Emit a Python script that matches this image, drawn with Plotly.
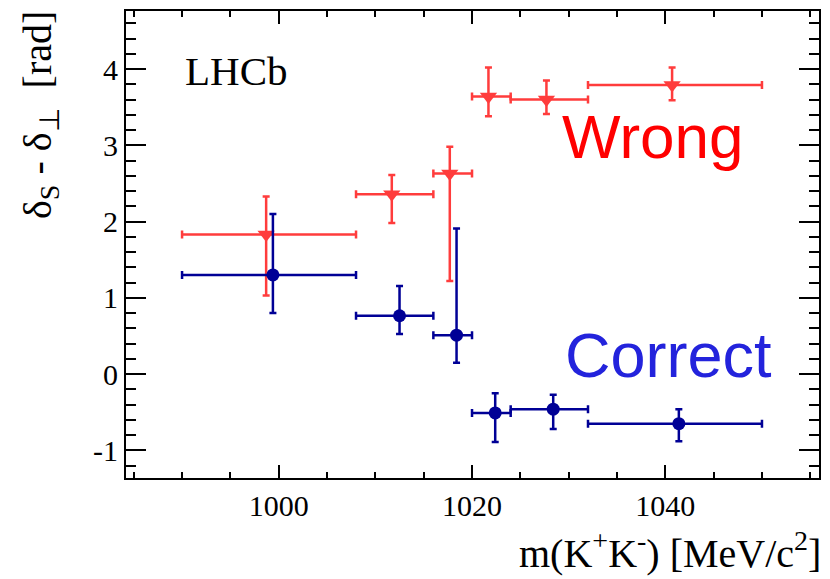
import plotly.graph_objects as go

# m(K+K-) bins [MeV/c^2]
bin_lo = [990, 1008, 1016, 1020, 1024, 1032]
bin_hi = [1008, 1016, 1020, 1024, 1032, 1050]

# "Correct" solution
correct_x = [999.4, 1012.5, 1018.4, 1022.4, 1028.4, 1041.4]
correct_y = [1.30, 0.765, 0.51, -0.51, -0.46, -0.65]
correct_up = [0.80, 0.39, 1.40, 0.26, 0.19, 0.19]
correct_dn = [0.50, 0.24, 0.36, 0.38, 0.26, 0.23]

# "Wrong" solution
wrong_x = [998.7, 1011.7, 1017.7, 1021.7, 1027.7, 1040.7]
wrong_y = [1.83, 2.36, 2.63, 3.64, 3.60, 3.79]
wrong_up = [0.50, 0.25, 0.35, 0.38, 0.25, 0.23]
wrong_dn = [0.80, 0.38, 1.41, 0.26, 0.19, 0.20]

x_ticks = [1000, 1020, 1040]
x_tick_text = ["1000", "1020", "1040"]
y_ticks = [-1, 0, 1, 2, 3, 4]
y_tick_text = ["-1", "0", "1", "2", "3", "4"]

W, H = 830, 579
L, R, T, B = 126, 819, 9, 478.5

SERIF = "Liberation Serif, Times New Roman, serif"
SANS = "Liberation Sans, Arial, sans-serif"
RED = "#ff3c3c"
BLUE = "#000096"


def px_x(p):
    return (p - L) / (R - L)


def px_y(p):
    return (B - p) / (B - T)


def xerr(xs):
    plus = [h - x for h, x in zip(bin_hi, xs)]
    minus = [x - l for l, x in zip(bin_lo, xs)]
    return plus, minus


fig = go.Figure()

wp, wm = xerr(wrong_x)
fig.add_trace(go.Scatter(
    x=wrong_x, y=wrong_y, mode="markers",
    marker=dict(symbol="triangle-down", size=15, color=RED),
    error_x=dict(type="data", symmetric=False, array=wp, arrayminus=wm,
                 color=RED, thickness=2.5, width=4),
    error_y=dict(type="data", symmetric=False, array=wrong_up, arrayminus=wrong_dn,
                 color=RED, thickness=2.5, width=3.5),
    showlegend=False,
))

cp, cm = xerr(correct_x)
fig.add_trace(go.Scatter(
    x=correct_x, y=correct_y, mode="markers",
    marker=dict(symbol="circle", size=13, color=BLUE),
    error_x=dict(type="data", symmetric=False, array=cp, arrayminus=cm,
                 color=BLUE, thickness=2.5, width=4),
    error_y=dict(type="data", symmetric=False, array=correct_up, arrayminus=correct_dn,
                 color=BLUE, thickness=2.5, width=3.5),
    showlegend=False,
))

axis_common = dict(
    showline=True, linecolor="black", linewidth=2, mirror="allticks",
    ticks="inside", tickcolor="black", tickwidth=2,
    showgrid=False, zeroline=False,
    tickfont=dict(family=SERIF, size=30, color="black"),
)

fig.update_xaxes(
    range=[984.2, 1055.9], tickvals=x_ticks, ticktext=x_tick_text, ticklen=13,
    minor=dict(ticks="inside", dtick=5, tick0=0, ticklen=6, tickwidth=2, tickcolor="black"),
    **axis_common,
)
fig.update_yaxes(
    range=[-1.363, 4.762], tickvals=y_ticks, ticktext=y_tick_text, ticklen=20,
    minor=dict(ticks="inside", dtick=0.2, tick0=0, ticklen=10, tickwidth=2, tickcolor="black"),
    **axis_common,
)

annotations = [
    dict(text="LHCb", x=px_x(183), y=px_y(69), xanchor="left", yanchor="middle",
         font=dict(family=SERIF, size=41, color="black")),
    dict(text="Wrong", x=px_x(560), y=px_y(135.5), xanchor="left", yanchor="middle",
         font=dict(family=SANS, size=62, color="#ff0000")),
    dict(text="Correct", x=px_x(563), y=px_y(355), xanchor="left", yanchor="middle",
         font=dict(family=SANS, size=63, color="#2323dc")),
    dict(text="m(K<sup>+</sup>K<sup>-</sup>) [MeV/c<sup>2</sup>]",
         x=px_x(823), y=px_y(551), xanchor="right", yanchor="middle",
         font=dict(family=SERIF, size=40, color="black")),
    dict(text="δ<sub>S</sub> - δ<sub>⊥</sub>\u00a0\u00a0[rad]", textangle=-90,
         x=px_x(40), y=px_y(7), xanchor="center", yanchor="top",
         font=dict(family=SERIF, size=40, color="black")),
]
for a in annotations:
    a.update(xref="paper", yref="paper", showarrow=False)

fig.update_layout(
    width=W, height=H,
    margin=dict(l=L, r=W - R, t=T, b=H - B),
    paper_bgcolor="white", plot_bgcolor="white",
    annotations=annotations,
)

fig.write_html("out.html")
